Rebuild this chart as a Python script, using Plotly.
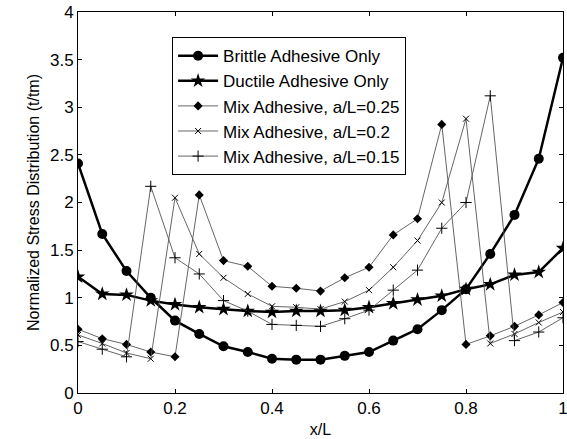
import plotly.graph_objects as go

x = [0, 0.05, 0.1, 0.15, 0.2, 0.25, 0.3, 0.35, 0.4, 0.45, 0.5,
     0.55, 0.6, 0.65, 0.7, 0.75, 0.8, 0.85, 0.9, 0.95, 1.0]

brittle = [2.41, 1.67, 1.28, 1.0, 0.76, 0.62, 0.49, 0.43, 0.36, 0.35, 0.35,
           0.39, 0.43, 0.55, 0.67, 0.87, 1.09, 1.46, 1.87, 2.46, 3.52]
ductile = [1.22, 1.04, 1.03, 0.97, 0.93, 0.9, 0.88, 0.86, 0.85, 0.86, 0.86,
           0.87, 0.9, 0.94, 0.98, 1.02, 1.09, 1.14, 1.24, 1.27, 1.52]
mix025 = [0.67, 0.57, 0.51, 0.43, 0.38, 2.08, 1.39, 1.33, 1.12, 1.1, 1.07,
          1.21, 1.32, 1.66, 1.83, 2.82, 0.51, 0.6, 0.7, 0.82, 0.95]
mix020 = [0.61, 0.52, 0.42, 0.36, 2.05, 1.46, 1.21, 1.04, 0.91, 0.9, 0.88,
          0.96, 1.08, 1.32, 1.6, 2.0, 2.88, 0.52, 0.62, 0.74, 0.85]
mix015 = [0.54, 0.46, 0.38, 2.17, 1.42, 1.25, 0.97, 0.86, 0.72, 0.71, 0.7,
          0.78, 0.87, 1.08, 1.29, 1.73, 2.0, 3.12, 0.55, 0.64, 0.79]

names = ["Brittle Adhesive Only", "Ductile Adhesive Only",
         "Mix Adhesive, a/L=0.25", "Mix Adhesive, a/L=0.2", "Mix Adhesive, a/L=0.15"]

xticks = [0, 0.2, 0.4, 0.6, 0.8, 1]
xticklabels = ["0", "0.2", "0.4", "0.6", "0.8", "1"]
yticks = [0, 0.5, 1, 1.5, 2, 2.5, 3, 3.5, 4]
yticklabels = ["0", "0.5", "1", "1.5", "2", "2.5", "3", "3.5", "4"]

fig = go.Figure()
fig.add_trace(go.Scatter(x=x, y=brittle, name=names[0], mode="lines+markers",
                         line=dict(color="black", width=2.5),
                         marker=dict(symbol="circle", size=10, color="black")))
fig.add_trace(go.Scatter(x=x, y=ductile, name=names[1], mode="lines+markers",
                         line=dict(color="black", width=2.5),
                         marker=dict(symbol="star", size=11, color="black")))
fig.add_trace(go.Scatter(x=x, y=mix025, name=names[2], mode="lines+markers",
                         line=dict(color="#555555", width=0.9),
                         marker=dict(symbol="diamond", size=7, color="black")))
fig.add_trace(go.Scatter(x=x, y=mix020, name=names[3], mode="lines+markers",
                         line=dict(color="#555555", width=0.9),
                         marker=dict(symbol="x-thin", size=6, color="black",
                                     line=dict(color="black", width=1))))
fig.add_trace(go.Scatter(x=x, y=mix015, name=names[4], mode="lines+markers",
                         line=dict(color="#555555", width=0.9),
                         marker=dict(symbol="cross-thin", size=8, color="black",
                                     line=dict(color="black", width=1))))

axis_common = dict(showline=True, linecolor="black", linewidth=1, mirror="ticks",
                   ticks="inside", ticklen=4, tickcolor="black", showgrid=False,
                   zeroline=False, tickfont=dict(size=17, color="black"),
                   ticklabeloverflow="allow", automargin=False)

fig.update_layout(
    template="none",
    width=567, height=439,
    margin=dict(l=78, r=4, t=12, b=46, autoexpand=False),
    paper_bgcolor="white", plot_bgcolor="white",
    font=dict(family="Liberation Sans, Arial, sans-serif", color="black", size=16),
    xaxis=dict(range=[0, 1], tickvals=xticks, ticktext=xticklabels,
               title=dict(text="x/L", font=dict(size=16), standoff=6), **axis_common),
    yaxis=dict(range=[0, 4], tickvals=yticks, ticktext=yticklabels,
               title=dict(text="Normalized Stress Distribution (t/tm)", font=dict(size=16), standoff=6),
               **axis_common),
    legend=dict(x=0.194, y=0.934, xanchor="left", yanchor="top",
                bordercolor="black", borderwidth=1, bgcolor="white",
                font=dict(size=17), tracegroupgap=0, itemwidth=40),
    showlegend=True,
)

fig.write_html("out.html", config={"displayModeBar": False},
               post_script="document.body.style.margin='0px';document.body.style.overflow='hidden';")
